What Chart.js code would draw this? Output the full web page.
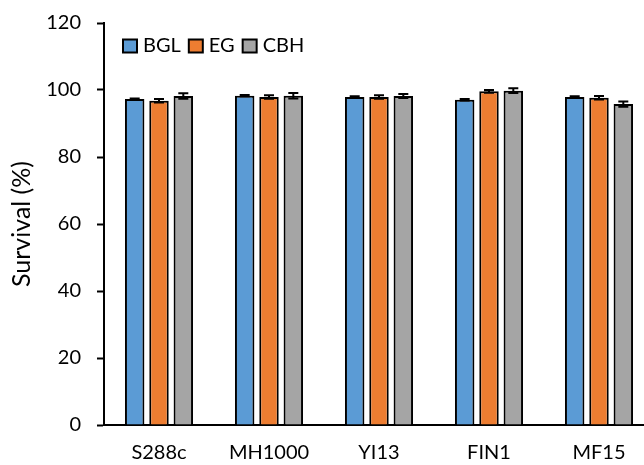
<!DOCTYPE html>
<html>
<head>
<meta charset="utf-8">
<script src="https://cdn.jsdelivr.net/npm/chart.js@4"></script>
<style>
  html, body { margin: 0; padding: 0; background: #fff; overflow: hidden; }
  #wrap { width: 656px; height: 465px; }
</style>
</head>
<body>
<div id="wrap"><canvas id="chart"></canvas></div>
<script>
const strains = ["S288c", "MH1000", "YI13", "FIN1", "MF15"];
const bglValues = [97.3, 98.3, 97.9, 97.1, 97.9];
const egValues = [96.8, 97.9, 97.9, 99.6, 97.7];
const cbhValues = [98.2, 98.3, 98.2, 99.8, 95.8];
const bglErrors = [0.2, 0.2, 0.2, 0.2, 0.2];
const egErrors = [0.5, 0.5, 0.5, 0.4, 0.5];
const cbhErrors = [0.8, 0.8, 0.6, 0.7, 0.8];
const yTicks = [0, 20, 40, 60, 80, 100, 120];

const FONT = "Lato, 'Liberation Sans', sans-serif";

// draws the +/- error bars on top of each bar
const errorBars = {
  id: "errorBars",
  afterDatasetsDraw(chart) {
    const ctx = chart.ctx;
    const y = chart.scales.y;
    chart.data.datasets.forEach((ds, i) => {
      const meta = chart.getDatasetMeta(i);
      meta.data.forEach((bar, j) => {
        const v = ds.data[j], e = ds.errors[j];
        const top = y.getPixelForValue(v + e);
        const bot = y.getPixelForValue(v - e);
        ctx.save();
        ctx.strokeStyle = "#000";
        ctx.lineWidth = 2;
        ctx.beginPath();
        ctx.moveTo(bar.x, top); ctx.lineTo(bar.x, bot);
        ctx.moveTo(bar.x - 5, top); ctx.lineTo(bar.x + 5, top);
        ctx.moveTo(bar.x - 5, bot); ctx.lineTo(bar.x + 5, bot);
        ctx.stroke();
        ctx.restore();
      });
    });
  }
};

// one-row legend inside the plot, top left
const insideLegend = {
  id: "insideLegend",
  afterDraw(chart) {
    const ctx = chart.ctx;
    const area = chart.chartArea;
    let x = area.left + 19;
    const cy = area.top + 23;
    ctx.save();
    ctx.font = "20px " + FONT;
    ctx.textBaseline = "middle";
    chart.data.datasets.forEach(ds => {
      ctx.fillStyle = ds.backgroundColor;
      ctx.fillRect(x, cy - 6.5, 14, 13);
      ctx.strokeStyle = "#000";
      ctx.lineWidth = 2;
      ctx.strokeRect(x, cy - 6.5, 14, 13);
      x += 20;
      ctx.fillStyle = "#000";
      ctx.fillText(ds.label, x, cy);
      x += ctx.measureText(ds.label).width + 8;
    });
    ctx.restore();
  }
};

new Chart(document.getElementById("chart"), {
  type: "bar",
  data: {
    labels: strains,
    datasets: [
      { label: "BGL", data: bglValues, errors: bglErrors, backgroundColor: "#5B9BD5" },
      { label: "EG", data: egValues, errors: egErrors, backgroundColor: "#ED7D31" },
      { label: "CBH", data: cbhValues, errors: cbhErrors, backgroundColor: "#A5A5A5" }
    ].map(d => Object.assign(d, {
      borderColor: "#000",
      borderWidth: 2,
      categoryPercentage: 0.663,
      barPercentage: 0.8
    }))
  },
  options: {
    responsive: true,
    maintainAspectRatio: false,
    animation: false,
    layout: { padding: { top: 23, right: 2, left: 0, bottom: 0 } },
    plugins: {
      legend: { display: false },
      tooltip: { enabled: false }
    },
    scales: {
      x: {
        grid: { display: false, drawTicks: false },
        border: { color: "#000", width: 2 },
        ticks: { color: "#000", padding: 16, font: { family: FONT, size: 20 } },
        afterFit(scale) { scale.height = 40; }
      },
      y: {
        min: 0,
        max: 120,
        afterBuildTicks(scale) { scale.ticks = yTicks.map(v => ({ value: v })); },
        grid: { drawOnChartArea: false, tickLength: 7, tickWidth: 2, tickColor: "#000" },
        border: { color: "#000", width: 2 },
        ticks: { color: "#000", padding: 16, font: { family: FONT, size: 20 } },
        title: {
          display: true,
          text: "Survival (%)",
          color: "#000",
          padding: { top: 7, bottom: 0 },
          font: { family: FONT, size: 25 }
        },
        afterFit(scale) {
          scale.width = 104;
          scale.paddingTop = 12;
          scale.paddingBottom = 12;
        }
      }
    }
  },
  plugins: [errorBars, insideLegend]
});
</script>
</body>
</html>
